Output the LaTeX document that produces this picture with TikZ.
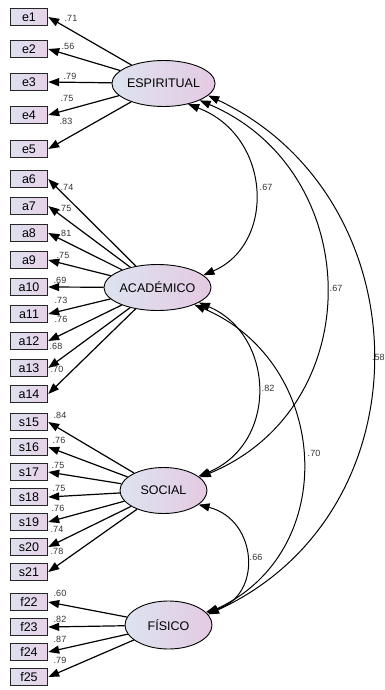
\documentclass[tikz,border=0pt]{standalone}
\usepackage{fontspec}
\setmainfont{Liberation Sans}
\usetikzlibrary{shapes.geometric,arrows.meta}
\definecolor{boxL}{HTML}{DDE0EF}
\definecolor{boxR}{HTML}{E8D2E8}
\definecolor{latL}{HTML}{DDE3F0}
\definecolor{latR}{HTML}{E4CAE2}
\tikzset{
  obs/.style={draw=black!85, line width=1.4pt, minimum width=37pt, minimum height=17pt, inner sep=0pt, left color=boxL, right color=boxR, font=\fontsize{12.5}{12.5}\selectfont},
  lat/.style={ellipse, draw=black, line width=0.9pt, minimum width=87pt, minimum height=46pt, inner sep=0pt, left color=latL, right color=latR, font=\fontsize{12.5}{13}\selectfont},
  load/.style={-{Triangle[length=11pt,width=8pt]}, line width=1.2pt},
  cov/.style={{Triangle[length=11pt,width=8pt]}-{Triangle[length=11pt,width=8pt]}, line width=1pt},
  est/.style={font=\fontsize{9}{9}\selectfont, inner sep=0pt, text=black!80}
}
\begin{document}
\begin{tikzpicture}[x=1pt,y=-1pt]
\useasboundingbox (0,0) rectangle (385,690);
% latent variables
\node[lat] (ESP) at (163.5,83.5) {ESPIRITUAL};
\node[lat] (ACA) at (157.5,287.5) {ACADÉMICO};
\node[lat] (SOC) at (163.5,490.5) {SOCIAL};
\node[lat,minimum height=48pt] (FIS) at (168.5,625) {FÍSICO};
% observed variables
\foreach \n/\y in {e1/17,e2/49,e3/82,e4/115,e5/149,
  a6/179,a7/206,a8/233,a9/260,a10/287,a11/314,a12/341,a13/368,a14/394,
  s15/422,s16/447,s17/472,s18/497,s19/522,s20/547,s21/572,
  f22/602,f23/627,f24/652,f25/677}
  \node[obs] (\n) at (29,\y) {\n};
% loadings
\foreach \n in {e1,e2,e3,e4,e5} \draw[load] (ESP) -- (\n.east);
\foreach \n in {a6,a7,a8,a9,a10,a11,a12,a13,a14} \draw[load] (ACA) -- (\n.east);
\foreach \n in {s15,s16,s17,s18,s19,s20,s21} \draw[load] (SOC) -- (\n.east);
\foreach \n in {f22,f23,f24,f25} \draw[load] (FIS) -- (\n.east);
% loading estimates
\foreach \k/\t/\x/\y in {l1/.71/71/18,l2/.56/68/46,l3/.79/70/76,l4/.75/67/98,l5/.83/66/121,
  l6/.74/67/187,l7/.75/65/208,l8/.81/65/233,l9/.75/63/255,l10/.69/60/280,l11/.73/61/300,l12/.76/61/319,l13/.68/56/346,l14/.70/57/369,
  l15/.84/60/415,l16/.76/59/440,l17/.75/58/465,l18/.75/59/488,l19/.76/58/508,l20/.74/57/529,l21/.78/57/551,
  l22/.60/60/593,l23/.82/60/619,l24/.87/60/639,l25/.79/60/660}
  \node[est] (\k) at (\x,\y) {\t};
% covariances
\draw[cov] (ESP.-40) .. controls (272,136) and (276,244) .. (ACA.15);
\draw[cov] (ESP.-25) .. controls (365.5,171) and (370,406.7) .. (SOC.20);
\draw[cov] (ESP.-15) .. controls (423.5,197.2) and (430.5,512.3) .. (FIS.15);
\draw[cov] (ACA.-20) .. controls (274.6,334.5) and (279.2,442.8) .. (SOC.22);
\draw[cov] (ACA.-25) .. controls (330.4,362.6) and (341.6,551.7) .. (FIS.17);
\draw[cov] (SOC.-22) .. controls (258.1,519.8) and (262.9,596.6) .. (FIS.19);
% covariance estimates
\node[est] (c1) at (266,187) {.67};
\node[est] (c2) at (336,288) {.67};
\node[est,anchor=west] (c3) at (372,357) {.58};
\node[est] (c4) at (268,388) {.82};
\node[est] (c5) at (314,453) {.70};
\node[est] (c6) at (256,557) {.66};
\end{tikzpicture}
\end{document}
